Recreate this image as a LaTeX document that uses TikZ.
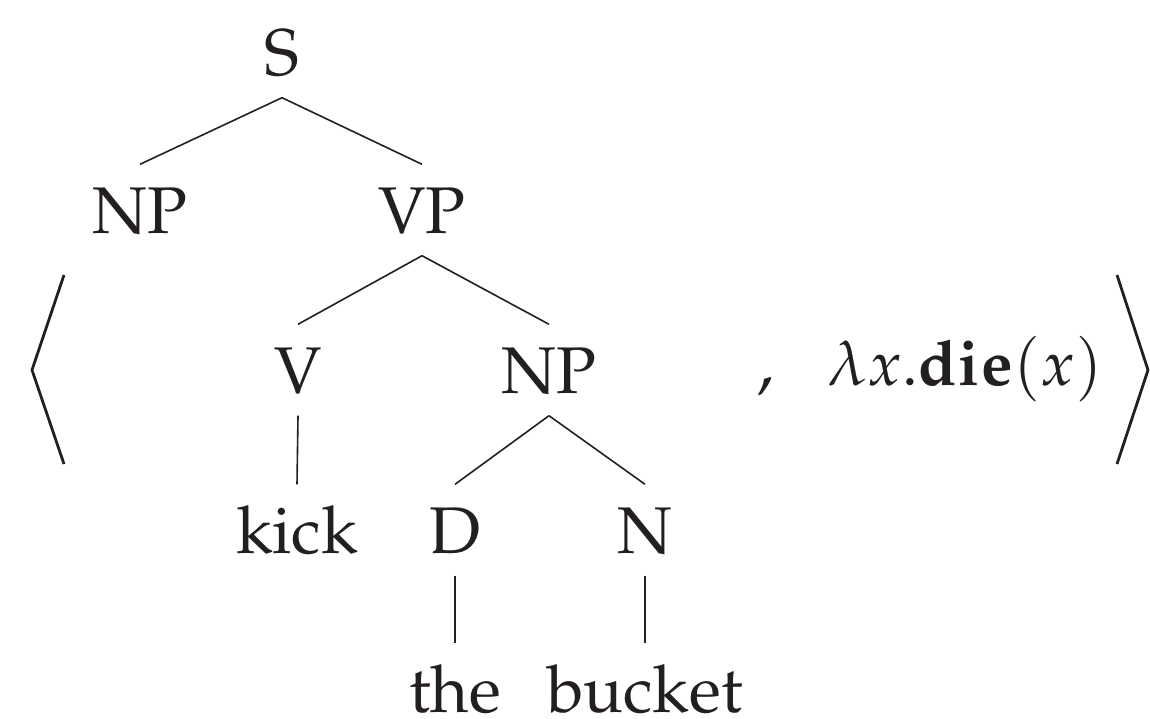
\documentclass[tikz,border=0pt]{standalone}
\usepackage[T1]{fontenc}
\usepackage{mathpazo}
\definecolor{ink}{RGB}{35,31,32}
\begin{document}
\begin{tikzpicture}[
  x=1pt, y=-1pt,
  every node/.style={text=ink},
  lbl/.style={anchor=base, inner xsep=0pt, inner ysep=22.5pt,
              text height=46pt, text depth=0pt,
              font=\fontsize{66}{79}\selectfont},
  leaf/.style={lbl, inner ysep=0pt},
  txt/.style={anchor=base, inner sep=0pt, font=\fontsize{66}{79}\selectfont},
  branch/.style={draw=ink, line width=1.6pt},
  tobottom/.style={branch, shorten >=22.5pt},
  bracket/.style={draw=ink, line width=2.8pt, line join=miter, line cap=butt}
]
\useasboundingbox (0,0) rectangle (1150,718);

% tree labels (placed on their baselines)
\node[lbl] (s)      at (282,75)  {S};
\node[lbl] (np)     at (140,233) {NP};
\node[lbl] (vp)     at (422,233) {VP};
\node[lbl] (v)      at (298,393) {V};
\node[lbl] (npobj)  at (549,393) {NP};
\node[lbl] (kick)   at (297,553) {kick};
\node[lbl] (d)      at (455,553) {D};
\node[lbl] (n)      at (645,553) {N};
\node[leaf] (the)    at (455,712) {the};
\node[leaf] (bucket) at (645,712) {bucket};

% branches
\draw[branch] (s.south) -- (np.north);
\draw[branch] (s.south) -- (vp.north);
\draw[branch] (vp.south) -- (v.north);
\draw[branch] (vp.south) -- (npobj.north);
\draw[branch] (v.south) -- (kick.north);
\draw[branch] (npobj.south) -- (d.north);
\draw[branch] (npobj.south) -- (n.north);
\draw[tobottom] (d.south) -- (the.north);
\draw[tobottom] (n.south) -- (bucket.north);

% second member of the pair
\node[txt] (comma) at (766,385) {,};
\node[txt, font=\fontsize{63}{76}\selectfont] (sem) at (965,385) {$\lambda x.\mathbf{die}(x)$};

% angle brackets
\coordinate (lt) at (64,275);
\coordinate (lm) at (32,370);
\coordinate (lb) at (64,464);
\coordinate (rt) at (1117,275);
\coordinate (rm) at (1148,370);
\coordinate (rb) at (1117,464);
\draw[bracket] (lt) -- (lm) -- (lb);
\draw[bracket] (rt) -- (rm) -- (rb);
\end{tikzpicture}
\end{document}
